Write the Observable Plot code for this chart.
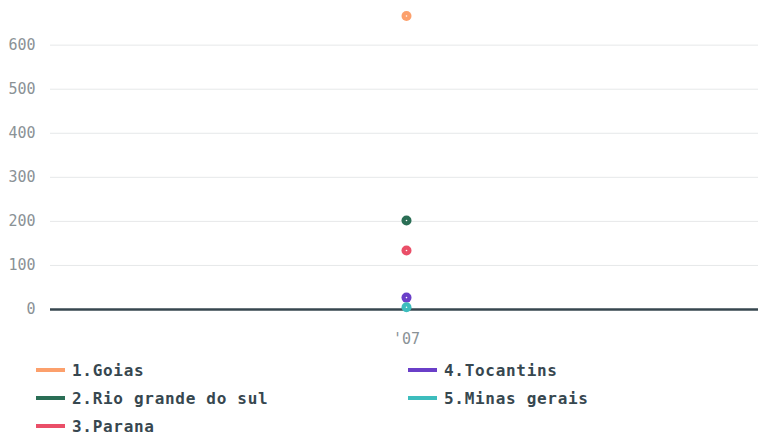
<!DOCTYPE html>
<html><head><meta charset="utf-8">
<script src="https://cdn.jsdelivr.net/npm/d3@7"></script>
<script src="https://cdn.jsdelivr.net/npm/@observablehq/plot@0.6"></script>
<style>
body{margin:0;background:#fff;}
#legend{display:grid;grid-template-columns:372px 350px;margin-left:36px;row-gap:6px;margin-top:9px;font-family:"DejaVu Sans Mono",monospace;font-weight:bold;font-size:16px;letter-spacing:0.7px;color:#37474f;}
.item{display:flex;align-items:center;height:22px;}
.sw{width:29px;height:4px;margin-right:7px;}
</style></head><body>
<div id="chart"></div>
<div id="legend"></div>
<script>
const years = ["'07"];
const regions = ["1.Goias","2.Rio grande do sul","3.Parana","4.Tocantins","5.Minas gerais"];
const values = [666, 202, 134, 27, 5];
const colors = ["#fca06c","#2a6e55","#ea4f68","#6a3fc8","#3dbdbd"];
const yTicks = [0,100,200,300,400,500,600];

const data = regions.map((r,i)=>({region:r, year:years[0], value:values[i]}));

const chart = Plot.plot({
  width:758, height:350,
  marginLeft:50, marginRight:0, marginTop:5, marginBottom:41,
  style:{fontFamily:"DejaVu Sans Mono, monospace", fontSize:"15px", color:"#8a9296", background:"#fff"},
  x:{type:"point", domain:years, range:[54,758], label:null},
  y:{domain:[0,690], label:null},
  color:{domain:regions, range:colors},
  marks:[
    Plot.gridY(yTicks,{stroke:"#e6e8e9", strokeOpacity:1}),
    Plot.axisY(yTicks,{tickSize:0, tickPadding:15, fill:"#8a9296", fontSize:15}),
    Plot.axisX({tickSize:0, tickPadding:24, fill:"#8a9296", fontSize:15}),
    Plot.ruleY([0],{stroke:"#37474f", strokeWidth:2.5}),
    Plot.dot(data,{x:"year", y:"value", fill:"region", r:5}),
    Plot.dot(data,{x:"year", y:"value", fill:"#fff", r:0.8})
  ]
});
document.getElementById("chart").appendChild(chart);

const order = [0,3,1,4,2];
const lg = document.getElementById("legend");
order.forEach(i=>{
  const d = document.createElement("div"); d.className="item";
  d.innerHTML = `<span class="sw" style="background:${colors[i]}"></span><span>${regions[i]}</span>`;
  lg.appendChild(d);
});
</script>
</body></html>
